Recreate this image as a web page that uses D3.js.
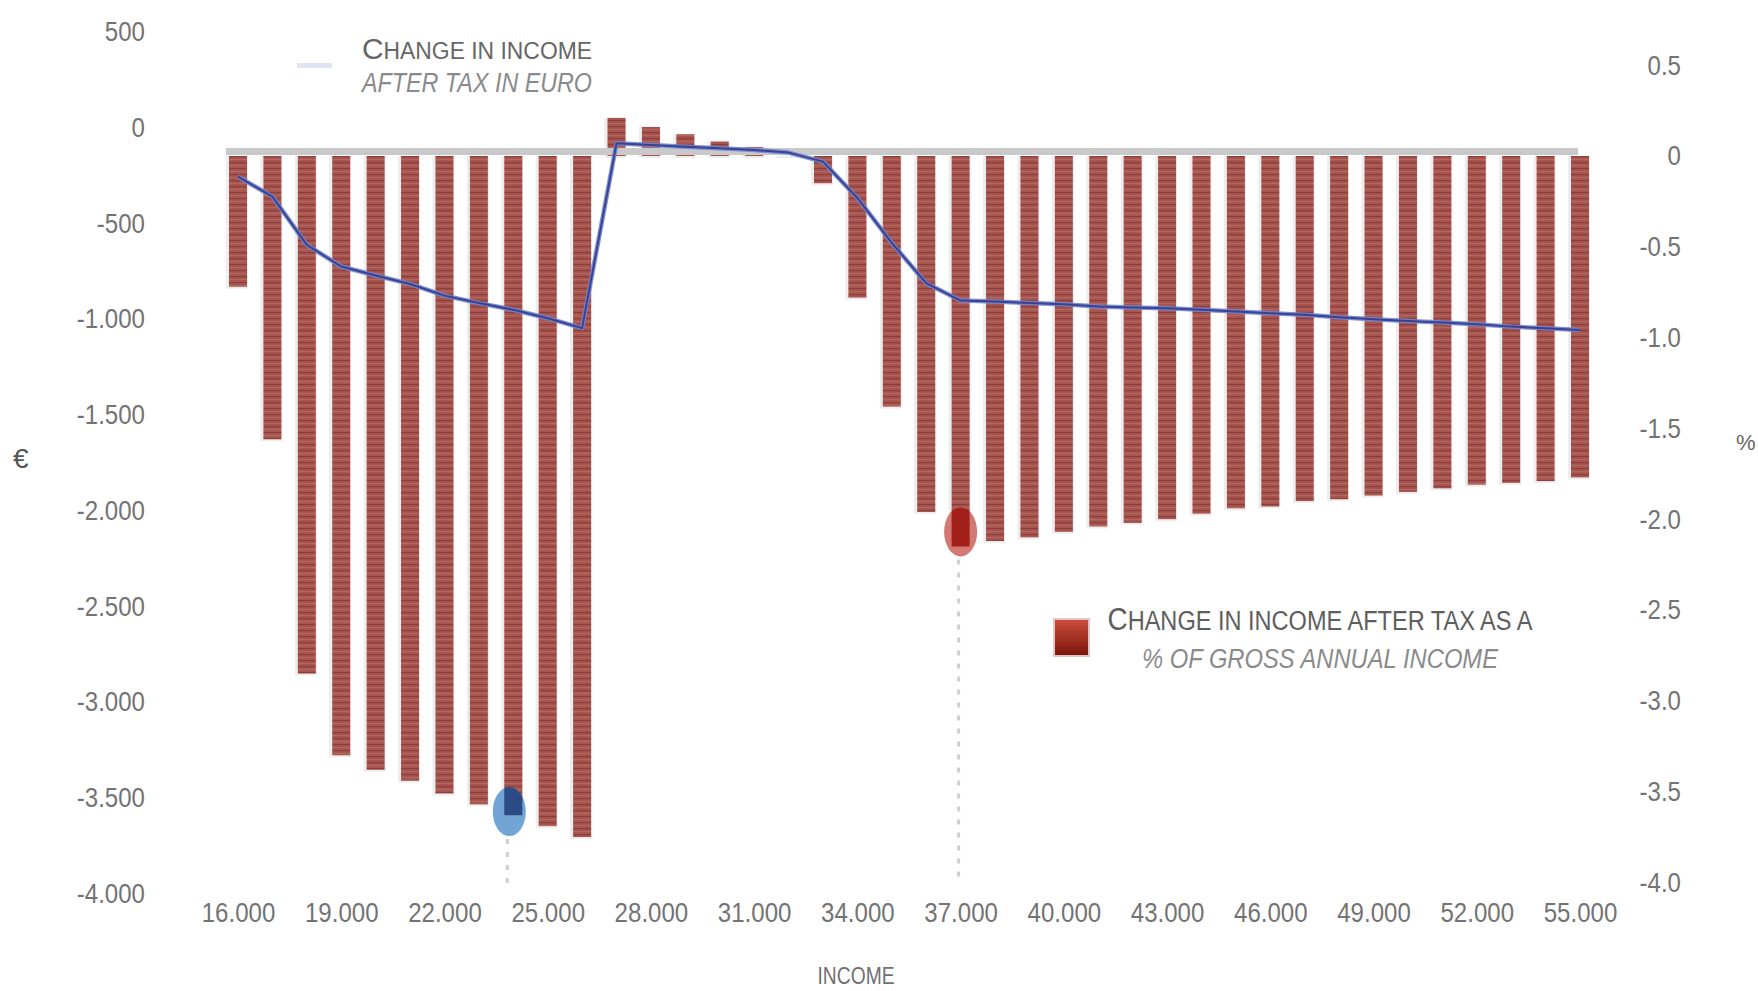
<!DOCTYPE html>
<html>
<head>
<meta charset="utf-8">
<script src="https://cdn.jsdelivr.net/npm/d3@7"></script>
<style>
  html, body { margin: 0; padding: 0; background: #fff; }
  svg { display: block; }
  .tick text { font-family: "Liberation Sans", Arial, sans-serif; }
  .lbl { font-family: "Liberation Sans", Arial, sans-serif; }
</style>
</head>
<body>
<svg id="chart" width="1758" height="991"></svg>
<script>
// Gross annual income (euro), one bar per 1.000
const incomes = [16000, 17000, 18000, 19000, 20000, 21000, 22000, 23000, 24000, 25000,
                 26000, 27000, 28000, 29000, 30000, 31000, 32000, 33000, 34000, 35000,
                 36000, 37000, 38000, 39000, 40000, 41000, 42000, 43000, 44000, 45000,
                 46000, 47000, 48000, 49000, 50000, 51000, 52000, 53000, 54000, 55000];

// Change in income after tax as a % of gross annual income (bars, right axis)
const pctChange = [-0.72, -1.56, -2.85, -3.30, -3.38, -3.44, -3.51, -3.57, -3.63, -3.69,
                   -3.75, 0.21, 0.16, 0.12, 0.08, 0.05, 0.00, -0.15, -0.78, -1.38,
                   -1.96, -2.15, -2.12, -2.10, -2.07, -2.04, -2.02, -2.00, -1.97, -1.94,
                   -1.93, -1.90, -1.89, -1.87, -1.85, -1.83, -1.81, -1.80, -1.79, -1.77];

// Change in income after tax in euro (line, left axis)
const euroChange = [-256, -361, -613, -726, -773, -817, -878, -917, -952, -996,
                    -1048, -82, -91, -100, -108, -117, -131, -178, -368, -603,
                    -813, -904, -909, -917, -923, -935, -940, -944, -952, -961,
                    -970, -978, -991, -1001, -1010, -1019, -1027, -1040, -1048, -1057];

// Axis tick values
const xTickValues = [16000, 19000, 22000, 25000, 28000, 31000, 34000,
                     37000, 40000, 43000, 46000, 49000, 52000, 55000];
const leftTickValues = [500, 0, -500, -1000, -1500, -2000, -2500, -3000, -3500, -4000];
const rightTickValues = [0.5, 0, -0.5, -1, -1.5, -2, -2.5, -3, -3.5, -4];

// Highlighted incomes (value on the % axis where the marker sits)
const highlightIncomes = [24000, 37000];
const highlightPct = [-3.61, -2.07];

// ---------------------------------------------------------------
const W = 1758, H = 991;
const svg = d3.select("#chart");
svg.append("rect").attr("width", W).attr("height", H).attr("fill", "#fff");

const loc = d3.formatLocale({ decimal: ".", thousands: ".", grouping: [3], currency: ["€", ""], minus: "-" });
const fmtThousands = loc.format(",");
const fmtPct = v => (v === 0 ? "0" : d3.format(".1f")(v).replace("−", "-"));

const x = d3.scalePoint().domain(incomes).range([238, 1580]);
const yR = d3.scaleLinear().domain([0.5, -4]).range([65.2, 882.4]);
const yL = d3.scaleLinear().domain([500, -4000]).range([31.8, 893.3]);

const defs = svg.append("defs");
const pat = defs.append("pattern").attr("id", "barTex")
  .attr("width", 8).attr("height", 6).attr("patternUnits", "userSpaceOnUse");
pat.append("rect").attr("width", 8).attr("height", 6).attr("fill", "#a6554f");
pat.append("rect").attr("y", 0).attr("width", 8).attr("height", 1.2).attr("fill", "#8a3838").attr("opacity", 0.85);
pat.append("rect").attr("y", 3).attr("width", 8).attr("height", 1).attr("fill", "#bb6e68").attr("opacity", 0.7);

const sq = defs.append("linearGradient").attr("id", "legSq").attr("x1", 0).attr("y1", 0).attr("x2", 0).attr("y2", 1);
sq.append("stop").attr("offset", "0%").attr("stop-color", "#cf4e3e");
sq.append("stop").attr("offset", "100%").attr("stop-color", "#7a140a");

const barW = 18;
const rows = incomes.map((c, i) => ({ c, p: pctChange[i], e: euroChange[i] }));

// bar shadows
svg.append("g").selectAll("rect").data(rows).join("rect")
  .attr("x", d => x(d.c) - barW / 2 - 3)
  .attr("width", barW + 4)
  .attr("y", d => Math.min(yR(d.p), yR(0)))
  .attr("height", d => Math.abs(yR(d.p) - yR(0)) + 2)
  .attr("fill", "#ededed");

// bars
svg.append("g").selectAll("rect").data(rows).join("rect")
  .attr("x", d => x(d.c) - barW / 2)
  .attr("width", barW)
  .attr("y", d => Math.min(yR(d.p), yR(0)))
  .attr("height", d => Math.abs(yR(d.p) - yR(0)))
  .attr("fill", "url(#barTex)");

// zero baseline
svg.append("rect")
  .attr("x", x(incomes[0]) - 12)
  .attr("width", x(incomes[incomes.length - 1]) - 2 - (x(incomes[0]) - 12))
  .attr("y", yR(0) - 8).attr("height", 7)
  .attr("fill", "#c9c9c9");

// line: change in euro
const line = d3.line().x(d => x(d.c)).y(d => yL(d.e)).curve(d3.curveLinear);
svg.append("path").datum(rows).attr("d", line)
  .attr("fill", "none").attr("stroke", "#7085cf").attr("stroke-width", 4.5)
  .attr("stroke-linejoin", "round").attr("opacity", 0.9);
svg.append("path").datum(rows).attr("d", line)
  .attr("fill", "none").attr("stroke", "#2f3586").attr("stroke-width", 2)
  .attr("stroke-linejoin", "round").attr("opacity", 0.85);

// highlight markers
const markStyle = [
  { light: "#6aa0d3", dark: "#2c4a84", dx: -4 },
  { light: "#d2716d", dark: "#a3211a", dx: 0 }
];
highlightIncomes.forEach((c, i) => {
  const st = markStyle[i];
  const cx = x(c) + st.dx, cy = yR(highlightPct[i]);
  const rx = 16.5, ry = 24.5;
  const barVal = pctChange[incomes.indexOf(c)];
  svg.append("line")
    .attr("x1", cx - 2).attr("x2", cx - 2)
    .attr("y1", cy + ry + 3).attr("y2", 884)
    .attr("stroke", "#cfcfcf").attr("stroke-width", 3).attr("stroke-dasharray", "5 8");
  const clipId = "clipMark" + i;
  defs.append("clipPath").attr("id", clipId)
    .append("ellipse").attr("cx", cx).attr("cy", cy).attr("rx", rx).attr("ry", ry);
  svg.append("ellipse").attr("cx", cx).attr("cy", cy).attr("rx", rx).attr("ry", ry)
    .attr("fill", st.light).attr("opacity", 0.95);
  svg.append("rect")
    .attr("clip-path", `url(#${clipId})`)
    .attr("x", x(c) - barW / 2).attr("width", barW)
    .attr("y", yR(0)).attr("height", yR(barVal) - yR(0))
    .attr("fill", st.dark);
});

// axes
const gL = svg.append("g").attr("transform", "translate(145,0)")
  .call(d3.axisLeft(yL).tickValues(leftTickValues).tickSize(0).tickPadding(0)
    .tickFormat(fmtThousands));
gL.select(".domain").remove();

const gR = svg.append("g").attr("transform", "translate(1681,0)")
  .call(d3.axisRight(yR).tickValues(rightTickValues).tickSize(0).tickPadding(0)
    .tickFormat(fmtPct));
gR.select(".domain").remove();
gR.selectAll("text").attr("text-anchor", "end").attr("x", 0);

const gX = svg.append("g").attr("transform", "translate(0,899)")
  .call(d3.axisBottom(x).tickValues(xTickValues).tickSize(0).tickPadding(3)
    .tickFormat(fmtThousands));
gX.select(".domain").remove();

// narrow, tall tick labels
svg.selectAll(".tick text")
  .attr("fill", "#737373").style("font-size", "28px")
  .attr("transform", "scale(0.86,1)");

// axis titles
svg.append("text").attr("class", "lbl").attr("x", 13).attr("y", 468)
  .attr("fill", "#555").style("font-size", "28px").text("€");
svg.append("text").attr("class", "lbl").attr("x", 1736).attr("y", 450)
  .attr("fill", "#666").style("font-size", "22px").text("%");
svg.append("text").attr("class", "lbl").attr("x", 856).attr("y", 984)
  .attr("text-anchor", "middle").attr("fill", "#707070").style("font-size", "24px")
  .attr("textLength", 77).attr("lengthAdjust", "spacingAndGlyphs").text("INCOME");

// legend: line
svg.append("line").attr("x1", 297).attr("x2", 332).attr("y1", 65.5).attr("y2", 65.5)
  .attr("stroke", "#dfe3f3").attr("stroke-width", 5);
const l1 = svg.append("text").attr("class", "lbl").attr("x", 477).attr("y", 59)
  .attr("text-anchor", "middle").attr("fill", "#666")
  .attr("textLength", 230).attr("lengthAdjust", "spacingAndGlyphs");
l1.append("tspan").style("font-size", "30px").text("C");
l1.append("tspan").style("font-size", "23px").text("HANGE IN INCOME");
svg.append("text").attr("class", "lbl").attr("x", 477).attr("y", 92)
  .attr("text-anchor", "middle").attr("fill", "#8a8a8a").style("font-size", "27px")
  .style("font-style", "italic")
  .attr("textLength", 230).attr("lengthAdjust", "spacingAndGlyphs").text("AFTER TAX IN EURO");

// legend: bars
svg.append("rect").attr("x", 1054).attr("y", 619).attr("width", 35).attr("height", 37)
  .attr("fill", "url(#legSq)").attr("stroke", "#e3c6c4").attr("stroke-width", 2);
const l2 = svg.append("text").attr("class", "lbl").attr("x", 1320).attr("y", 630)
  .attr("text-anchor", "middle").attr("fill", "#5e5e5e")
  .attr("textLength", 425).attr("lengthAdjust", "spacingAndGlyphs");
l2.append("tspan").style("font-size", "32px").text("C");
l2.append("tspan").style("font-size", "27px").text("HANGE IN INCOME AFTER TAX AS A");
svg.append("text").attr("class", "lbl").attr("x", 1320).attr("y", 668)
  .attr("text-anchor", "middle").attr("fill", "#8a8a8a").style("font-size", "27px")
  .style("font-style", "italic")
  .attr("textLength", 356).attr("lengthAdjust", "spacingAndGlyphs").text("% OF GROSS ANNUAL INCOME");
</script>
</body>
</html>
